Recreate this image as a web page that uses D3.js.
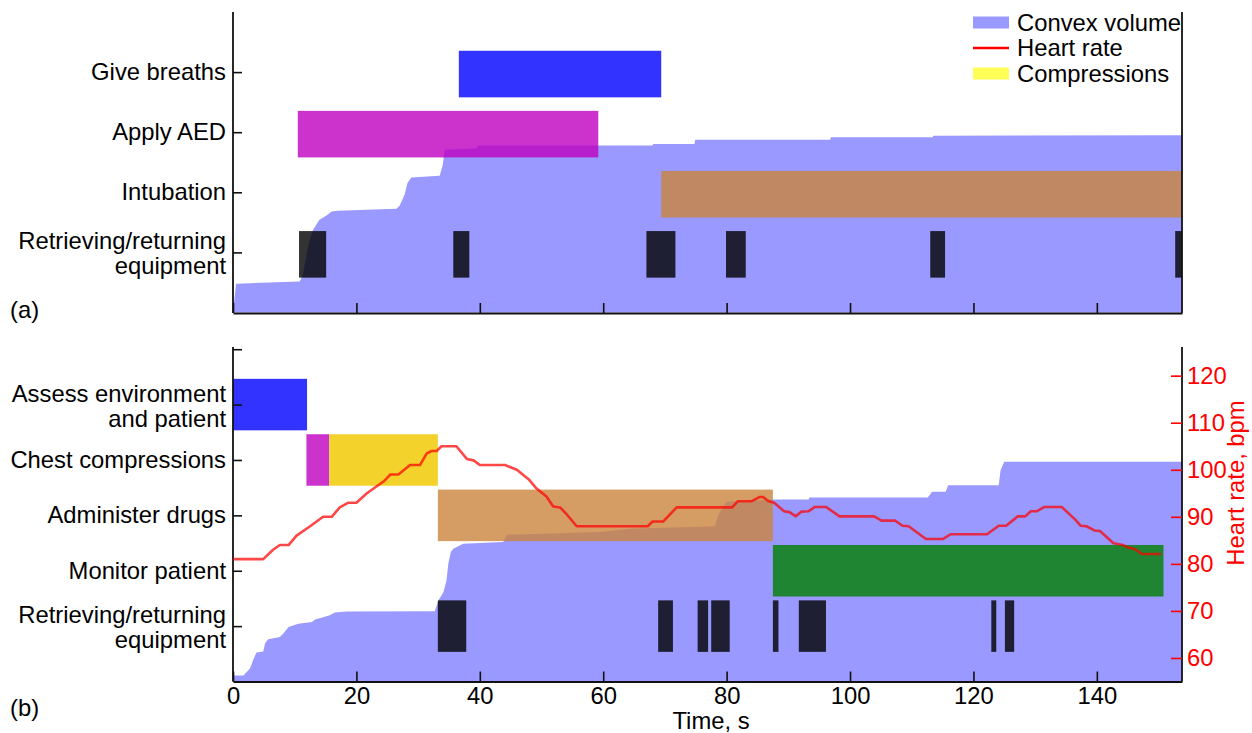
<!DOCTYPE html>
<html><head><meta charset="utf-8">
<script src="https://cdn.jsdelivr.net/npm/d3@7"></script>
<style>
body{margin:0;background:#fff}
svg{display:block}
text{font-family:"Liberation Sans",Arial,Helvetica,sans-serif}
</style>
</head><body>
<svg id="chart" width="1252" height="733"></svg>
<script>
// ---------------- DATA ----------------
const timeMax = 153.8;
const timeTicks = [0, 20, 40, 60, 80, 100, 120, 140];
const hrTicks = [60, 70, 80, 90, 100, 110, 120];

// Panel (a) categories (bottom to top)
const catsA = [["Retrieving/returning", "equipment"], ["Intubation"], ["Apply AED"], ["Give breaths"]];
// Panel (b) categories (bottom to top)
const catsB = [["Retrieving/returning", "equipment"], ["Monitor patient"], ["Administer drugs"], ["Chest compressions"], ["Assess environment", "and patient"]];

// Panel (a) task intervals [row, start, end, kind]
const tasksA = [
  [4, 36.6, 69.4, "breaths"],
  [3, 10.5, 59.2, "aed"],
  [2, 69.4, 153.8, "drugs"],
  [1, 10.7, 15.1, "equip"], [1, 35.7, 38.3, "equip"], [1, 67.0, 71.7, "equip"],
  [1, 79.9, 83.1, "equip"], [1, 113.0, 115.4, "equip"], [1, 152.7, 153.8, "equip"]
];
// Panel (b) task intervals [row, start, end, kind]
const tasksB = [
  [5, 0, 12.0, "breaths"],
  [4, 11.9, 15.6, "aed"],
  [4, 15.6, 33.2, "compress"],
  [3, 33.2, 87.5, "drugs"],
  [2, 87.5, 150.8, "monitor"],
  [1, 33.2, 37.8, "equip"], [1, 68.9, 71.3, "equip"], [1, 75.3, 77.0, "equip"],
  [1, 77.5, 80.5, "equip"], [1, 87.5, 88.4, "equip"], [1, 91.7, 96.1, "equip"],
  [1, 122.9, 123.7, "equip"], [1, 125.1, 126.6, "equip"]
];

// Convex volume (normalised) over time, panel (a)
const convexA = [
  [0, 0], [0.5, 0.096], [10.8, 0.103], [11.3, 0.123], [11.7, 0.166], [12.3, 0.233],
  [13.0, 0.276], [13.5, 0.292], [14.0, 0.309], [15.1, 0.322], [16.0, 0.336], [17.0, 0.339],
  [26.5, 0.345], [27.0, 0.355], [27.8, 0.392], [28.3, 0.432], [28.9, 0.449], [33.5, 0.455],
  [34.0, 0.492], [34.3, 0.542], [39.5, 0.547], [39.6, 0.556], [68.0, 0.556], [68.1, 0.561],
  [74.8, 0.561], [74.9, 0.575], [96.8, 0.575], [96.9, 0.583], [113.4, 0.583], [113.5, 0.588],
  [153.8, 0.590]
];
// Convex volume (normalised) over time, panel (b)
const convexB = [
  [0, 0.018], [1.7, 0.018], [2.75, 0.039], [3.3, 0.066], [3.8, 0.087], [4.9, 0.090],
  [5.2, 0.114], [5.7, 0.126], [7.6, 0.133], [8.2, 0.144], [9.0, 0.163], [10.6, 0.173],
  [12.8, 0.178], [13.3, 0.185], [14.6, 0.192], [15.7, 0.198], [16.5, 0.206], [18.4, 0.209],
  [32.7, 0.210], [33.3, 0.243], [34.1, 0.267], [34.6, 0.302], [34.9, 0.353], [35.3, 0.387],
  [35.7, 0.397], [36.5, 0.404], [37.3, 0.412], [43.8, 0.417], [44.4, 0.439], [59.5, 0.447],
  [64.3, 0.457], [78.1, 0.464], [78.7, 0.500], [80.0, 0.537], [87.5, 0.544], [93.3, 0.544],
  [93.4, 0.550], [112.6, 0.550], [113.3, 0.567], [115.5, 0.567], [115.9, 0.587], [124.1, 0.587],
  [124.4, 0.632], [125.0, 0.657], [153.8, 0.657]
];
// Heart rate (bpm) over time, panel (b)
const heartRate = [
  [0, 81], [4.9, 81], [6.5, 83], [7.6, 84], [9.0, 84], [10.3, 86], [12.5, 88], [14.6, 90],
  [16.0, 90], [17.3, 92], [18.7, 93], [20.0, 93], [21.7, 95], [23.3, 96.5], [24.4, 97.5],
  [25.5, 99], [26.8, 99], [28.7, 101], [30.3, 101], [31.4, 103.5], [32.2, 104], [33.0, 104],
  [33.8, 105], [36.2, 105], [37.9, 102.3], [39.0, 102], [40.0, 101], [44.1, 101], [46.0, 100],
  [47.9, 98], [49.2, 96], [50.8, 94.3], [51.9, 92.2], [53.0, 92], [54.1, 90.5], [55.7, 88],
  [67.2, 88], [68.0, 89], [69.7, 89], [71.9, 92], [80.9, 92], [81.8, 93.3], [84.0, 93.3],
  [85.3, 94.2], [85.9, 94.2], [86.8, 93.3], [87.7, 93], [89.3, 91.2], [90.2, 91], [91.2, 90.1],
  [92.1, 91.1], [93.3, 91.2], [94.3, 92.1], [96.1, 92.1], [98.3, 90.1], [103.9, 90.1],
  [105.1, 89.2], [107.3, 89.2], [108.5, 88.1], [109.5, 88], [112.3, 85.3], [115.1, 85.3],
  [116.3, 86.3], [122.2, 86.3], [124.1, 88.1], [125.3, 88.1], [127.2, 90.1], [128.4, 90.1],
  [129.3, 91.2], [130.3, 91.2], [131.5, 92.1], [134.3, 92.1], [136.5, 89.4], [137.4, 88.1],
  [138.3, 88], [139.6, 87.1], [140.5, 87], [142.7, 84.4], [144.2, 84], [145.2, 83.4],
  [146.1, 83.2], [147.3, 82.1], [150.4, 82.1]
];
const legendItems = [["Convex volume", "area"], ["Heart rate", "line"], ["Compressions", "yellow"]];

// ---------------- STYLES ----------------
const colors = {
  breaths: "#0000ff", aed: "#bf00bf", drugs: "#ca833d", equip: "#000000",
  monitor: "#007f00", compress: "#f3d22b"
};
const opac = { breaths: 0.8, aed: 0.8, drugs: 0.8, equip: 0.8, monitor: 0.8, compress: 1 };
const volColor = "#9999ff";
const FS = 23.8;

// ---------------- DRAW ----------------
const svg = d3.select("#chart");
const x = d3.scaleLinear().domain([0, timeMax]).range([233, 1182]);

function panel(cfg) {
  const g = svg.append("g");
  const yCat = d3.scaleLinear().domain([0, cfg.nCat]).range([cfg.bottom, cfg.top]);
  const yVol = d3.scaleLinear().domain([0, 1]).range([cfg.bottom, cfg.top]);

  // convex volume area
  g.append("path").datum(cfg.convex)
    .attr("fill", volColor)
    .attr("d", d3.area().x(d => x(d[0])).y0(yVol(0)).y1(d => yVol(d[1])));

  // bars
  g.selectAll("rect.task").data(cfg.tasks).join("rect")
    .attr("class", "task")
    .attr("x", d => x(d[1]))
    .attr("width", d => x(d[2]) - x(d[1]))
    .attr("y", d => yCat(d[0] + cfg.barHi))
    .attr("height", d => yCat(d[0] - cfg.barLo) - yCat(d[0] + cfg.barHi))
    .attr("fill", d => colors[d[3]])
    .attr("fill-opacity", d => opac[d[3]]);

  // bottom axis
  const xa = d3.axisBottom(x).tickValues(timeTicks).tickSizeInner(-10).tickSizeOuter(0).tickPadding(6);
  if (!cfg.labels) xa.tickFormat("");
  const gx = g.append("g").attr("transform", `translate(0,${cfg.axisBottom})`).call(xa);
  gx.select(".domain").attr("stroke", "#111").attr("stroke-width", 2.2);
  gx.selectAll(".tick line").attr("stroke", "#111").attr("stroke-width", 1.6);
  gx.selectAll(".tick text").attr("font-size", FS).attr("fill", "#000")
    .style("font-family", '"Liberation Sans",Arial,sans-serif');

  // left axis
  const ya = d3.axisLeft(yCat).tickValues(d3.range(1, cfg.nCat)).tickSizeInner(-9).tickSizeOuter(0).tickFormat("");
  const gy = g.append("g").attr("transform", "translate(233,0)").call(ya);
  gy.select(".domain").attr("stroke", "#111").attr("stroke-width", 1.8)
    .attr("d", `M0,${cfg.top}V${cfg.axisBottom}`);
  gy.selectAll(".tick line").attr("stroke", "#111").attr("stroke-width", 1.6);

  // category labels
  cfg.cats.forEach((lines, i) => {
    const yc = yCat(i + 1);
    const t = g.append("text").attr("text-anchor", "end").attr("font-size", FS).attr("fill", "#000");
    if (lines.length === 1) {
      t.append("tspan").attr("x", 226).attr("y", yc + 8).text(lines[0]);
    } else {
      t.append("tspan").attr("x", 226).attr("y", yc - 3).text(lines[0]);
      t.append("tspan").attr("x", 226).attr("y", yc + 22).text(lines[1]);
    }
  });

  // right frame line
  g.append("line").attr("x1", 1182).attr("x2", 1182).attr("y1", cfg.top).attr("y2", cfg.axisBottom)
    .attr("stroke", "#111").attr("stroke-width", 1.8);

  // panel tag
  g.append("text").attr("x", 10).attr("y", cfg.tagY).attr("font-size", FS).attr("fill", "#000").text(cfg.tag);
  return g;
}

panel({ top: 12, bottom: 312.5, axisBottom: 313, nCat: 5, cats: catsA, tasks: tasksA,
  convex: convexA, barHi: 0.355, barLo: 0.42, labels: false, tag: "(a)", tagY: 318 });

const gB = panel({ top: 347, bottom: 681.5, axisBottom: 681.5, nCat: 6.04, cats: catsB, tasks: tasksB,
  convex: convexB, barHi: 0.465, barLo: 0.465, labels: true, tag: "(b)", tagY: 716 });

// heart rate
const yHR = d3.scaleLinear().domain([55, 126.2]).range([681.5, 346.5]);
gB.append("path").datum(heartRate)
  .attr("fill", "none").attr("stroke", "#ff0000").attr("stroke-opacity", 0.72)
  .attr("stroke-width", 2.6).attr("stroke-linejoin", "round")
  .attr("d", d3.line().x(d => x(d[0])).y(d => yHR(d[1])));

// right HR axis
const hrAxis = d3.axisRight(yHR).tickValues(hrTicks).tickSizeInner(-11).tickSizeOuter(0).tickPadding(5);
const gr = gB.append("g").attr("transform", "translate(1182,0)").call(hrAxis);
gr.select(".domain").remove();
gr.selectAll(".tick line").attr("stroke", "#ff0000").attr("stroke-width", 1.6);
gr.selectAll(".tick text").attr("fill", "#ff0000").attr("font-size", FS)
  .style("font-family", '"Liberation Sans",Arial,sans-serif');
gB.append("text").attr("transform", "translate(1244,483) rotate(-90)")
  .attr("text-anchor", "middle").attr("font-size", FS).attr("fill", "#ff0000")
  .text("Heart rate, bpm");

// x-axis title
gB.append("text").attr("x", 711).attr("y", 729).attr("text-anchor", "middle")
  .attr("font-size", FS).attr("fill", "#000").text("Time, s");

// legend
const lg = svg.append("g");
legendItems.forEach((it, i) => {
  const yc = 22.5 + i * 25.5;
  if (it[1] === "area") {
    lg.append("rect").attr("x", 973).attr("y", yc - 6).attr("width", 36).attr("height", 12).attr("fill", volColor);
  } else if (it[1] === "line") {
    lg.append("line").attr("x1", 973).attr("x2", 1009).attr("y1", yc).attr("y2", yc)
      .attr("stroke", "#ff0000").attr("stroke-width", 2.6);
  } else {
    lg.append("rect").attr("x", 973).attr("y", yc - 6).attr("width", 36).attr("height", 12).attr("fill", "#ffff55");
  }
  lg.append("text").attr("x", 1017).attr("y", yc + 8).attr("font-size", FS).attr("fill", "#000").text(it[0]);
});
</script>
</body></html>
